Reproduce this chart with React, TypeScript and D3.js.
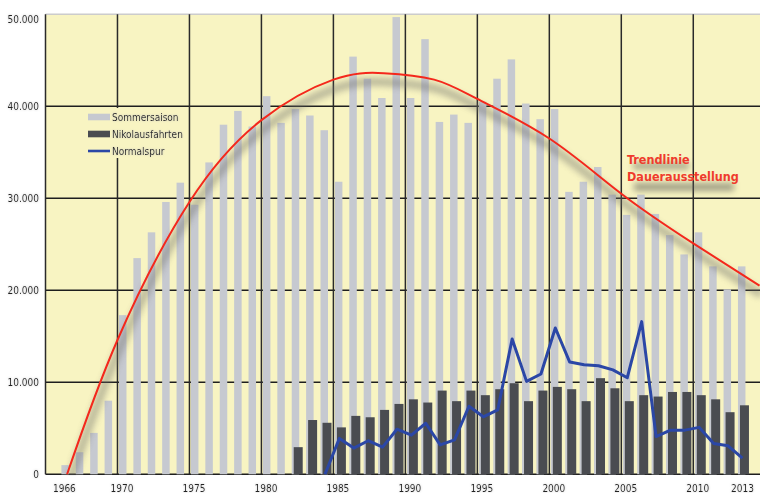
import { scaleLinear, line, curveNatural } from "d3";

const width = 760;
const height = 493;
const left = 45.5;
const slot = 14.395;
const baseY = 474.3;
const topY = 14.3;

const years = [
  1966, 1967, 1968, 1969, 1970, 1971, 1972, 1973, 1974, 1975, 1976, 1977,
  1978, 1979, 1980, 1981, 1982, 1983, 1984, 1985, 1986, 1987, 1988, 1989,
  1990, 1991, 1992, 1993, 1994, 1995, 1996, 1997, 1998, 1999, 2000, 2001,
  2002, 2003, 2004, 2005, 2006, 2007, 2008, 2009, 2010, 2011, 2012, 2013,
];

// Sommersaison, one per year from 1966
const sommersaison = [
  1000, 2400, 4500, 8000, 17300, 23500, 26300, 29600, 31700, 29300, 33900,
  38000, 39500, 37800, 41100, 38200, 39700, 39000, 37400, 31800, 45400, 43000,
  40900, 49700, 40900, 47300, 38300, 39100, 38200, 40500, 43000, 45100, 40300,
  38600, 39700, 30700, 31800, 33400, 30400, 28200, 30400, 28300, 26000, 23900,
  26300, 22600, 20100, 22600,
];

const nikoYears = [
  1982, 1983, 1984, 1985, 1986, 1987, 1988, 1989, 1990, 1991, 1992, 1993,
  1994, 1995, 1996, 1997, 1998, 1999, 2000, 2001, 2002, 2003, 2004, 2005,
  2006, 2007, 2008, 2009, 2010, 2011, 2012, 2013,
];
const nikolausfahrten = [
  2950, 5900, 5600, 5100, 6350, 6200, 7000, 7650, 8150, 7800, 9100, 7950,
  9100, 8600, 9250, 9900, 7950, 9100, 9500, 9250, 7950, 10450, 9350, 7950,
  8600, 8450, 8950, 8950, 8600, 8150, 6750, 7500,
];

const normalYears = [
  1984, 1985, 1986, 1987, 1988, 1989, 1990, 1991, 1992, 1993, 1994, 1995,
  1996, 1997, 1998, 1999, 2000, 2001, 2002, 2003, 2004, 2005, 2006, 2007,
  2008, 2009, 2010, 2011, 2012, 2013,
];
const normalspur = [
  0, 3900, 2850, 3650, 2950, 4900, 4250, 5550, 3200, 3750, 7400, 6250, 7000,
  14700, 10100, 10900, 15900, 12200, 11900, 11800, 11350, 10500, 16600, 4100,
  4800, 4800, 5100, 3350, 3100, 1750,
];

// trend line (year, value)
const trendYears = [
  1966.5, 1970, 1975, 1980, 1985, 1988.5, 1992, 1995, 2000, 2005, 2010, 2014.6,
];
const trendValues = [
  0, 14600, 29600, 38500, 42900, 43600, 42900, 40800, 36500, 30500, 25100,
  20500,
];

const yTicks = [0, 10000, 20000, 30000, 40000, 50000];
const gridYears = [1965, 1970, 1975, 1980, 1985, 1990, 1995, 2000, 2005, 2010];
const labelYears = [1966, 1970, 1975, 1980, 1985, 1990, 1995, 2000, 2005, 2010, 2013];

const legendItems = ["Sommersaison", "Nikolausfahrten", "Normalspur"];
const trendLabel = ["Trendlinie", "Dauerausstellung"];

const bg = "#f8f4c2";
const lightBar = "#c6c9d0";
const darkBar = "#4a4c51";
const blue = "#2b47a6";
const red = "#f4281c";
const font = "'DejaVu Sans Condensed', 'Liberation Sans Narrow', sans-serif";

const fmt = (v: number) => (v === 0 ? "0" : `${v / 1000}.000`);

export default function App() {
  const x = scaleLinear().domain([1965, 2015]).range([left, left + 50 * slot]);
  const y = scaleLinear().domain([0, 50000]).range([baseY, topY]);

  const blueLine = line<number>()
    .x((_, i) => x(normalYears[i]) + 6)
    .y((d) => y(d));
  const trendLine = line<number>()
    .x((_, i) => x(trendYears[i]))
    .y((d) => y(d))
    .curve(curveNatural);

  const bluePath = blueLine(normalspur) ?? "";
  const trendPath = trendLine(trendValues) ?? "";

  return (
    <svg
      width={width}
      height={height}
      viewBox={`0 0 ${width} ${height}`}
      style={{ position: "absolute", left: 0, top: 0 }}
    >
      <defs>
        <clipPath id="plot">
          <rect x={left} y={topY} width={width - left} height={baseY - topY + 1} />
        </clipPath>
        <filter id="blur" x="-20%" y="-20%" width="140%" height="140%">
          <feGaussianBlur stdDeviation={3} />
        </filter>
        <filter id="textBlur" x="-20%" y="-100%" width="140%" height="300%">
          <feGaussianBlur stdDeviation={3} />
        </filter>
        <filter id="halo" x="-20%" y="-30%" width="140%" height="160%">
          <feDropShadow dx={0} dy={0} stdDeviation={1} floodColor="#bbb" floodOpacity={0.8} />
        </filter>
      </defs>

      <rect x={left} y={topY} width={width - left} height={baseY - topY} fill={bg} />
      <line x1={left} x2={width} y1={topY} y2={topY} stroke="#ccc" strokeWidth={1.5} />

      {/* grid, behind the bars */}
      {yTicks.slice(0, 5).map((t) => (
        <line key={t} x1={left} x2={width} y1={y(t)} y2={y(t)} stroke="#1e1e1e" strokeWidth={1.6} />
      ))}
      {gridYears.map((yr) => (
        <line key={yr} x1={x(yr)} x2={x(yr)} y1={topY} y2={baseY} stroke="#2a2a2a" strokeWidth={1.5} />
      ))}

      <g clipPath="url(#plot)">
        {sommersaison.map((v, i) => (
          <rect
            key={years[i]}
            x={x(years[i]) + 1.5}
            y={y(v)}
            width={7.5}
            height={baseY - y(v)}
            fill={lightBar}
          />
        ))}
        {nikolausfahrten.map((v, i) => (
          <rect
            key={nikoYears[i]}
            x={x(nikoYears[i]) + 3.5}
            y={y(v)}
            width={9}
            height={baseY - y(v)}
            fill={darkBar}
          />
        ))}

        <path
          d={trendPath}
          transform="translate(2,9)"
          fill="none"
          stroke="#6f6f6a"
          strokeWidth={8}
          opacity={0.45}
          filter="url(#blur)"
        />
        <path d={bluePath} fill="none" stroke={blue} strokeWidth={3} strokeLinejoin="round" />
        <path d={trendPath} fill="none" stroke={red} strokeWidth={2} />
      </g>

      {/* legend */}
      <rect x={84} y={108} width={98} height={50} fill={bg} />
      {legendItems.map((name, i) => {
        const cy = 117 + i * 17;
        return (
          <g key={name}>
            {i < 2 ? (
              <rect x={88} y={cy - 3.3} width={22} height={6.6} fill={i === 0 ? lightBar : darkBar} />
            ) : (
              <line x1={88} x2={110} y1={cy} y2={cy} stroke={blue} strokeWidth={2.6} />
            )}
            <text
              x={112}
              y={cy}
              dy="0.35em"
              fontFamily={font}
              fontSize={10}
              fill="#222"
              filter="url(#halo)"
            >
              {name}
            </text>
          </g>
        );
      })}

      {/* trend label with its soft shadow */}
      <g opacity={0.55} filter="url(#textBlur)" fill="#5a5a55">
        <rect x={633} y={163} width={56} height={6} />
        <rect x={634} y={183} width={100} height={8} />
      </g>
      {trendLabel.map((t, i) => (
        <text
          key={t}
          x={627}
          y={164 + i * 17}
          fontFamily={font}
          fontSize={12.5}
          fontWeight="bold"
          fill="#ef3b2d"
        >
          {t}
        </text>
      ))}

      {/* y axis labels */}
      {yTicks.map((t) => (
        <text
          key={t}
          x={39}
          y={Math.max(y(t), 19)}
          dy="0.35em"
          textAnchor="end"
          fontFamily={font}
          fontSize={10}
          fill="#222"
          filter="url(#halo)"
        >
          {fmt(t)}
        </text>
      ))}

      {/* x axis labels */}
      {labelYears.map((yr) => (
        <text
          key={yr}
          x={x(yr) + (yr === 2013 ? 6 : 4.5)}
          y={491.5}
          textAnchor="middle"
          fontFamily={font}
          fontSize={10}
          fill="#222"
          filter="url(#halo)"
        >
          {yr}
        </text>
      ))}
    </svg>
  );
}
